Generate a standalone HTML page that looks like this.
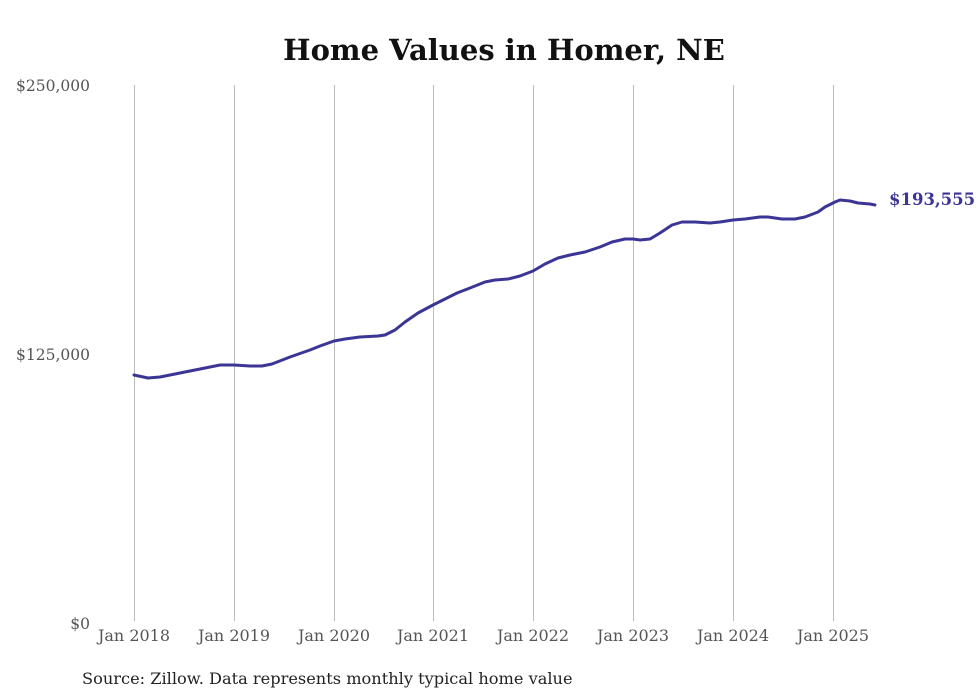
<!DOCTYPE html>
<html><head><meta charset="utf-8"><style>
body{margin:0;background:#fff;}
svg{display:block;font-family:"DejaVu Serif","Liberation Serif",serif;}
</style></head><body>
<svg width="980" height="699" viewBox="0 0 980 699">
<rect width="980" height="699" fill="#fff"/>
<text x="504" y="60" text-anchor="middle" font-size="29" font-weight="bold" fill="#111">Home Values in Homer, NE</text>
<g stroke="#bbb" stroke-width="1">
<line x1="134.5" y1="85" x2="134.5" y2="621"/><line x1="234.5" y1="85" x2="234.5" y2="621"/>
<line x1="334.5" y1="85" x2="334.5" y2="621"/><line x1="433.5" y1="85" x2="433.5" y2="621"/>
<line x1="533.5" y1="85" x2="533.5" y2="621"/><line x1="633.5" y1="85" x2="633.5" y2="621"/>
<line x1="733.5" y1="85" x2="733.5" y2="621"/><line x1="833.5" y1="85" x2="833.5" y2="621"/>
</g>
<g font-size="15.5" fill="#555">
<text x="90" y="91" text-anchor="end">$250,000</text>
<text x="90" y="360" text-anchor="end">$125,000</text>
<text x="90" y="629" text-anchor="end">$0</text>
<g text-anchor="middle" font-size="16">
<text x="134" y="641">Jan 2018</text><text x="234" y="641">Jan 2019</text>
<text x="334" y="641">Jan 2020</text><text x="433" y="641">Jan 2021</text>
<text x="533" y="641">Jan 2022</text><text x="633" y="641">Jan 2023</text>
<text x="733" y="641">Jan 2024</text><text x="833" y="641">Jan 2025</text>
</g></g>
<polyline fill="none" stroke="#3b3596" stroke-width="3" stroke-linejoin="round" stroke-linecap="round"
points="134,375 148,378 160,377 180,373 200,369 220,365 234,365 250,366 262,366 272,364 290,357 310,350 320,346 334,341 345,339 360,337 378,336 385,335 395,330 405,322 418,313 433,305 445,299 457,293 470,288 485,282 495,280 508,279 520,276 533,271 545,264 558,258 570,255 585,252 600,247 612,242 625,239 633,239 640,240 650,239 660,233 672,225 682,222 695,222 710,223 720,222 733,220 745,219 760,217 768,217 782,219 795,219 805,217 818,212 825,207 835,202 840,200 850,201 858,203 870,204 875,205"/>
<text x="889" y="205" font-size="16.5" font-weight="bold" fill="#3b3596">$193,555</text>
<text x="82" y="684" font-size="16.2" fill="#222">Source: Zillow. Data represents monthly typical home value</text>
</svg>
</body></html>
